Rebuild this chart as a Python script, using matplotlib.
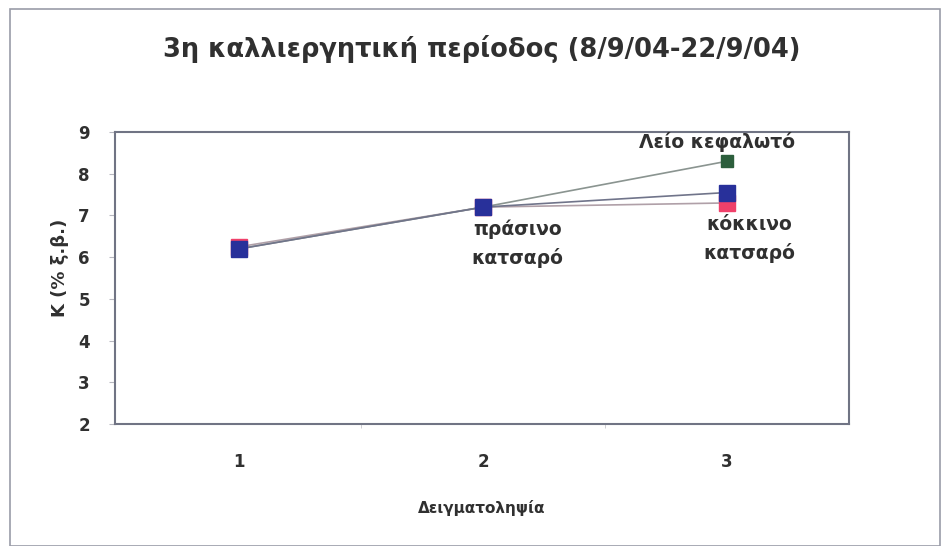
import matplotlib
matplotlib.use("Agg")
import matplotlib.pyplot as plt
from matplotlib.patches import Rectangle

plt.rcParams['font.family'] = ['DejaVu Sans']

# sampling rounds and K content per lettuce type
samples = [1, 2, 3]
leio_kefaloto = [6.2, 7.2, 8.3]
prasino_katsaro = [6.2, 7.2, 7.55]
kokkino_katsaro = [6.25, 7.2, 7.3]

title = "3η καλλιεργητική περίοδος (8/9/04-22/9/04)"
xlabel = "Δειγματοληψία"
ylabel = "K (% ξ.β.)"

fig = plt.figure(figsize=(9.44, 5.46), dpi=100)
ax = fig.add_axes([0.1218, 0.2234, 0.7776, 0.5348])

# outer chart frame
fig.patches.append(Rectangle((0.011, 0.0), 0.985, 0.983, transform=fig.transFigure,
                             fill=False, edgecolor="#9a9ca8", linewidth=1.2))

ax.plot(samples, kokkino_katsaro, color="#b0a0a8", lw=1.2, marker="s",
        markersize=11, markerfacecolor="#f0406a", markeredgecolor="#f0406a", zorder=3)
ax.plot(samples, leio_kefaloto, color="#8a9490", lw=1.2, marker="s",
        markersize=8, markerfacecolor="#2c5e3c", markeredgecolor="#2c5e3c", zorder=4)
ax.plot(samples, prasino_katsaro, color="#70748a", lw=1.2, marker="s",
        markersize=12, markerfacecolor="#28309a", markeredgecolor="#28309a", zorder=5)

# data labels with the series names
lbl = dict(fontsize=13.5, fontweight="bold", color="#303030", ha="center")
ax.text(samples[2] - 0.04, leio_kefaloto[2] + 0.22, "Λείο κεφαλωτό", va="bottom", **lbl)
ax.text(samples[1] + 0.14, prasino_katsaro[1] - 0.3, "πράσινο\nκατσαρό", va="top",
        linespacing=1.55, **lbl)
ax.text(samples[2] + 0.09, kokkino_katsaro[2] - 0.3, "κόκκινο\nκατσαρό", va="top",
        linespacing=1.55, **lbl)

ax.set_xlim(0.49, 3.5)
ax.set_ylim(2, 9)
ax.set_yticks(range(2, 10))
ax.set_xticks(samples)
ax.set_xticks([1.5, 2.5], minor=True)
ax.tick_params(axis="x", which="major", length=0, pad=21, labelsize=12, labelcolor="#303030")
ax.tick_params(axis="x", which="minor", length=3, color="#c8c8cc")
ax.tick_params(axis="y", length=4, color="#b8b8c0", pad=14, labelsize=12, labelcolor="#303030")
for t in ax.get_xticklabels() + ax.get_yticklabels():
    t.set_fontweight("bold")

for s in ax.spines.values():
    s.set_color("#707484")
    s.set_linewidth(1.5)

ax.set_title(title, fontsize=18.5, fontweight="bold", color="#303030", pad=54)
ax.set_xlabel(xlabel, fontsize=11, fontweight="bold", color="#303030", labelpad=21)
ax.set_ylabel(ylabel, fontsize=13, fontweight="bold", color="#303030")
ax.yaxis.set_label_coords(-0.062, 0.535)

fig.savefig("out.png", dpi=100)
